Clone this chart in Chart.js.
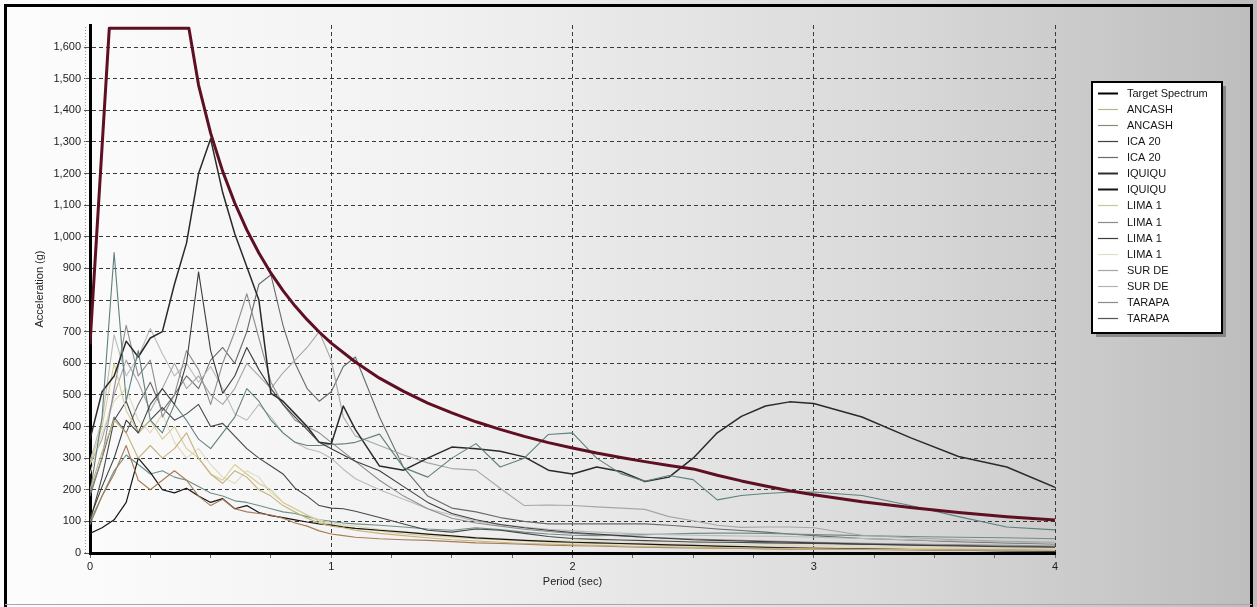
<!DOCTYPE html>
<html>
<head>
<meta charset="utf-8">
<title>Response spectra</title>
<script src="https://cdn.jsdelivr.net/npm/chart.js@4.4.1/dist/chart.umd.min.js"></script>
<style>
  html, body { margin: 0; padding: 0; background: #fff; }
  #wrap { width: 1257px; height: 607px; position: relative; }
  canvas { display: block; }
</style>
</head>
<body>
<div id="wrap"><canvas id="spectra" width="1257" height="607"></canvas></div>
<script>
// Periods (sec) shared by all ground-motion records
const periods = [
  0, 0.05, 0.1, 0.15, 0.2, 0.25, 0.3, 0.35, 0.4, 0.45,
  0.5, 0.55, 0.6, 0.65, 0.7, 0.75, 0.8, 0.85, 0.9, 0.95,
  1.0, 1.05, 1.1, 1.2, 1.3, 1.4, 1.5, 1.6, 1.7, 1.8,
  1.9, 2.0, 2.1, 2.2, 2.3, 2.4, 2.5, 2.6, 2.7, 2.8,
  2.9, 3.0, 3.2, 3.4, 3.6, 3.8, 4.0
];

// Design (target) spectrum
const targetPeriods = [
  0, 0.08, 0.41, 0.45, 0.5, 0.55, 0.6, 0.65, 0.7, 0.75,
  0.8, 0.85, 0.9, 0.95, 1.0, 1.1, 1.2, 1.3, 1.4, 1.5,
  1.6, 1.7, 1.8, 1.9, 2.0, 2.1, 2.2, 2.3, 2.4, 2.5,
  2.6, 2.7, 2.8, 2.9, 3.0, 3.2, 3.4, 3.6, 3.8, 4.0
];
const targetValues = [
  660, 1660, 1660, 1480, 1328, 1207, 1107, 1022, 949, 885,
  830, 781, 738, 699, 664, 604, 553, 511, 474, 443,
  415, 391, 369, 349, 332, 316, 302, 289, 277, 266,
  246, 228, 212, 197, 184, 162, 144, 128, 115, 104
];

// Record spectra (acceleration, g)
const ancash1 = [
  200, 320, 420, 380, 300, 340, 300, 330, 380, 300,
  250, 220, 260, 240, 200, 180, 150, 130, 110, 95,
  85, 80, 72, 62, 55, 48, 42, 38, 34, 30,
  28, 26, 24, 22, 20, 19, 18, 17, 16, 15,
  14, 13, 12, 11, 10, 9, 8
];
const ancash2 = [
  100, 180, 250, 340, 230, 200, 230, 260, 230, 180,
  150, 170, 140, 130, 125, 120, 110, 95, 85, 70,
  60, 55, 50, 45, 42, 40, 36, 32, 30, 28,
  25, 23, 22, 20, 18, 17, 16, 15, 14, 13,
  12, 12, 11, 10, 9, 9, 8
];
const ica20a = [
  110, 210, 300, 420, 380, 470, 520, 470, 600, 889,
  640, 505, 560, 650, 580, 520, 470, 430, 390, 350,
  330, 310, 290, 260, 210, 160, 125, 105, 90, 80,
  72, 65, 60, 55, 50, 46, 42, 40, 38, 36,
  34, 32, 28, 25, 22, 20, 18
];
const ica20b = [
  190, 430, 950, 480, 640, 420, 380, 470, 420, 360,
  330, 380, 430, 520, 480, 420, 380, 350, 340, 340,
  343, 345, 350, 376, 270, 240, 300, 346, 272, 300,
  375, 380, 300, 251, 227, 245, 232, 168, 182, 188,
  192, 193, 182, 150, 115, 82, 73
];
const iquiqu1 = [
  360, 510, 560, 670, 620, 680, 700, 850, 980, 1200,
  1310, 1140, 1010, 905, 800, 505, 480, 440, 400, 350,
  345, 465, 390, 275, 262, 300, 335, 330, 322, 304,
  262, 250, 272, 258, 226, 240, 300, 380, 432, 465,
  478, 473, 430, 365, 305, 272, 208
];
const iquiqu2 = [
  62, 80, 105, 160, 300, 255, 200, 190, 205, 180,
  160, 172, 140, 150, 128, 118, 112, 105, 98, 92,
  88, 82, 78, 72, 66, 60, 54, 48, 44, 40,
  37, 34, 32, 30, 28, 26, 24, 22, 20, 18,
  16, 15, 13, 11, 9, 7, 6
];
const lima1a = [
  280, 400, 600, 450, 380, 420, 360, 400, 330, 300,
  250, 230, 280, 250, 220, 200, 160, 140, 120, 100,
  90, 85, 78, 70, 60, 55, 50, 45, 42, 38,
  35, 32, 30, 28, 26, 24, 22, 21, 20, 19,
  18, 17, 15, 14, 13, 12, 11
];
const lima1b = [
  190, 300, 520, 720, 560, 610, 430, 500, 640, 580,
  470, 600, 700, 820, 680, 540, 470, 420, 400, 380,
  350, 320, 290, 230, 180, 140, 110, 95, 85, 75,
  68, 62, 58, 54, 50, 47, 44, 42, 40, 38,
  36, 34, 31, 28, 26, 24, 22
];
const lima1c = [
  100, 240, 420, 480, 380, 420, 460, 420, 440, 470,
  400, 410, 370, 330, 300, 275, 250, 205, 180, 150,
  142, 140, 132, 112, 92, 72, 66, 76, 72, 62,
  52, 46, 43, 41, 39, 37, 35, 34, 33, 32,
  31, 30, 28, 26, 24, 22, 20
];
const lima1d = [
  250, 380, 480, 520, 420, 380, 440, 350, 300, 330,
  280, 240, 220, 260, 240, 190, 160, 140, 120, 105,
  95, 90, 85, 75, 68, 60, 55, 50, 46, 42,
  40, 38, 36, 34, 32, 30, 29, 28, 27, 26,
  25, 24, 22, 20, 19, 18, 17
];
const surde1 = [
  280, 360, 500, 610, 540, 450, 520, 600, 520, 560,
  500, 470, 520, 600, 560, 520, 570, 610, 650, 700,
  610, 430, 370, 340, 310, 285, 267, 262, 205, 150,
  152, 150, 146, 142, 138, 115, 102, 88, 81, 82,
  82, 80, 56, 48, 42, 37, 34
];
const surde2 = [
  290, 420, 690, 560, 620, 710, 630, 560, 600, 540,
  590, 520, 440, 420, 470, 430, 380, 350, 330, 320,
  300, 265, 235, 200, 170, 140, 120, 100, 90, 82,
  75, 70, 66, 63, 60, 58, 56, 55, 54, 53,
  52, 50, 46, 42, 38, 34, 30
];
const tarapa1 = [
  90, 180, 260, 310, 280, 250, 260, 240, 230, 210,
  190, 180, 165, 160, 150, 140, 130, 125, 115, 105,
  100, 95, 92, 88, 82, 76, 72, 80, 74, 66,
  60, 56, 55, 56, 58, 60, 62, 63, 63, 62,
  60, 58, 55, 52, 50, 48, 45
];
const tarapa2 = [
  180, 300, 430, 380, 470, 540, 450, 500, 560, 520,
  610, 650, 600, 700, 850, 880, 720, 600, 520, 480,
  510, 590, 620, 430, 270, 180, 142, 130, 112, 100,
  92, 92, 92, 92, 92, 88, 82, 76, 71, 66,
  60, 55, 46, 41, 36, 32, 29
];

const yTickStep = 100;
const yMax = 1670;
const xTickStep = 0.25;

const FONT = '"Liberation Sans", Arial, Helvetica, sans-serif';

const toPoints = (xs, ys) => xs.map((x, i) => ({ x: x, y: ys[i] }));

const records = [
  { label: 'ANCASH', values: ancash1, color: '#c6b27c', legend: '#b9b48a', width: 1.1 },
  { label: 'ANCASH', values: ancash2, color: '#a77b55', legend: '#8a8a72', width: 1.1 },
  { label: 'ICA 20', values: ica20a, color: '#3d3d3d', legend: '#404040', width: 1.1 },
  { label: 'ICA 20', values: ica20b, color: '#5f807d', legend: '#6a6a6a', width: 1.1 },
  { label: 'IQUIQU', values: iquiqu1, color: '#2a2a2a', legend: '#2e2e2e', width: 1.5 },
  { label: 'IQUIQU', values: iquiqu2, color: '#151515', legend: '#151515', width: 1.2 },
  { label: 'LIMA 1', values: lima1a, color: '#d6cc96', legend: '#c8c896', width: 1.1 },
  { label: 'LIMA 1', values: lima1b, color: '#8d8d8d', legend: '#8c8c8c', width: 1.1 },
  { label: 'LIMA 1', values: lima1c, color: '#474747', legend: '#3c3c3c', width: 1.1 },
  { label: 'LIMA 1', values: lima1d, color: '#e0d9bd', legend: '#e2dcc2', width: 1.1 },
  { label: 'SUR DE', values: surde1, color: '#a6a6a6', legend: '#a6a6a6', width: 1.1 },
  { label: 'SUR DE', values: surde2, color: '#bababa', legend: '#b4b4b4', width: 1.1 },
  { label: 'TARAPA', values: tarapa1, color: '#6d8f85', legend: '#8c8c8c', width: 1.1 },
  { label: 'TARAPA', values: tarapa2, color: '#666b6b', legend: '#4e5656', width: 1.1 }
];

const datasets = [{
  label: 'Target Spectrum',
  data: toPoints(targetPeriods, targetValues),
  borderColor: '#5e0f22',
  borderWidth: 3,
  pointRadius: 0,
  tension: 0,
  fill: false
}].concat(records.map(r => ({
  label: r.label,
  data: toPoints(periods, r.values),
  borderColor: r.color,
  borderWidth: r.width,
  pointRadius: 0,
  tension: 0,
  fill: false
})));

const legendColors = ['#000000'].concat(records.map(r => r.legend));
const legendWidths = [2].concat(records.map(r => (r.label === 'IQUIQU' ? 2 : 1.2)));

// Panel background gradient and outer frame
const panel = {
  id: 'panel',
  beforeDraw(chart) {
    const { ctx, width, height } = chart;
    const g = ctx.createLinearGradient(0, 0, width, 0);
    g.addColorStop(0, '#fdfdfd');
    g.addColorStop(0.35, '#f1f1f1');
    g.addColorStop(0.7, '#dadada');
    g.addColorStop(1, '#bdbdbd');
    ctx.save();
    ctx.fillStyle = g;
    ctx.fillRect(0, 0, width, height);
    ctx.restore();
  },
  afterDraw(chart) {
    const { ctx, width, height, chartArea, scales } = chart;
    ctx.save();
    // minor marks beside the value axis
    ctx.strokeStyle = '#9a9a9a';
    ctx.lineWidth = 1;
    ctx.setLineDash([1, 2]);
    ctx.beginPath();
    ctx.moveTo(85.5, scales.y.getPixelForValue(0));
    ctx.lineTo(85.5, chartArea.top);
    ctx.stroke();
    ctx.setLineDash([]);
    // frame
    ctx.strokeStyle = '#000';
    ctx.lineWidth = 3;
    ctx.beginPath();
    ctx.moveTo(5.5, height);
    ctx.lineTo(5.5, 5.5);
    ctx.lineTo(width - 5.5, 5.5);
    ctx.lineTo(width - 5.5, height);
    ctx.stroke();
    ctx.strokeStyle = '#a8a8a8';
    ctx.lineWidth = 1;
    ctx.beginPath();
    ctx.moveTo(5, height - 2.5);
    ctx.lineTo(width - 5, height - 2.5);
    ctx.stroke();
    ctx.restore();
  }
};

// Boxed legend at the right of the plot
const boxedLegend = {
  id: 'boxedLegend',
  afterDraw(chart) {
    const ctx = chart.ctx;
    const x0 = 1092, y0 = 82, w = 130, h = 251, rowH = 16.07;
    ctx.save();
    ctx.fillStyle = 'rgba(85,85,85,0.55)';
    ctx.fillRect(x0 + 4, y0 + 4, w, h);
    ctx.fillStyle = '#ffffff';
    ctx.fillRect(x0, y0, w, h);
    ctx.strokeStyle = '#000';
    ctx.lineWidth = 2;
    ctx.strokeRect(x0, y0, w, h);
    ctx.font = '11px ' + FONT;
    ctx.textBaseline = 'middle';
    ctx.textAlign = 'left';
    chart.data.datasets.forEach((ds, i) => {
      const y = Math.round(y0 + 11 + i * rowH) + 0.5;
      ctx.strokeStyle = legendColors[i];
      ctx.lineWidth = legendWidths[i];
      ctx.beginPath();
      ctx.moveTo(x0 + 6, y);
      ctx.lineTo(x0 + 26, y);
      ctx.stroke();
      ctx.fillStyle = '#151515';
      ctx.fillText(ds.label, x0 + 35, y + 0.5);
    });
    ctx.restore();
  }
};

new Chart(document.getElementById('spectra'), {
  type: 'line',
  data: { datasets: datasets },
  plugins: [panel, boxedLegend],
  options: {
    responsive: false,
    animation: false,
    devicePixelRatio: 1,
    layout: { padding: { left: 0, top: 25, right: 202, bottom: 0 } },
    plugins: {
      legend: { display: false },
      tooltip: { enabled: false }
    },
    elements: { line: { borderJoinStyle: 'round' } },
    scales: {
      x: {
        type: 'linear',
        min: 0,
        max: 4,
        afterFit(s) { s.height = 54; },
        ticks: {
          stepSize: xTickStep,
          autoSkip: false,
          maxRotation: 0,
          padding: 2,
          color: '#222',
          font: { family: FONT, size: 11 },
          callback: v => (Number.isInteger(v) ? String(v) : '')
        },
        grid: {
          color: c => (c.tick && Number.isInteger(c.tick.value) && c.tick.value > 0) ? '#3a3a3a' : 'rgba(0,0,0,0)',
          lineWidth: 1,
          drawTicks: true,
          tickLength: 5,
          tickColor: '#666'
        },
        border: { display: true, color: '#000', width: 3, dash: [4, 3] },
        title: {
          display: true,
          text: 'Period (sec)',
          color: '#222',
          font: { family: FONT, size: 11 },
          padding: { top: 0, bottom: 18 }
        }
      },
      y: {
        type: 'linear',
        min: 0,
        max: yMax,
        afterFit(s) { s.width = 90; },
        ticks: {
          stepSize: yTickStep,
          includeBounds: false,
          padding: 3,
          color: '#222',
          font: { family: FONT, size: 11 },
          callback: v => Number(v).toLocaleString('en-US')
        },
        afterBuildTicks(s) {
          s.ticks = s.ticks.filter(t => t.value % yTickStep === 0);
        },
        grid: {
          color: c => (c.tick && c.tick.value > 0) ? '#3a3a3a' : 'rgba(0,0,0,0)',
          lineWidth: 1,
          drawTicks: true,
          tickLength: 6,
          tickColor: '#555'
        },
        border: { display: true, color: '#000', width: 3, dash: [4, 3] },
        title: {
          display: true,
          text: 'Acceleration (g)',
          color: '#222',
          font: { family: FONT, size: 11 },
          padding: { top: 33, bottom: 0 }
        }
      }
    }
  }
});
</script>
</body>
</html>
